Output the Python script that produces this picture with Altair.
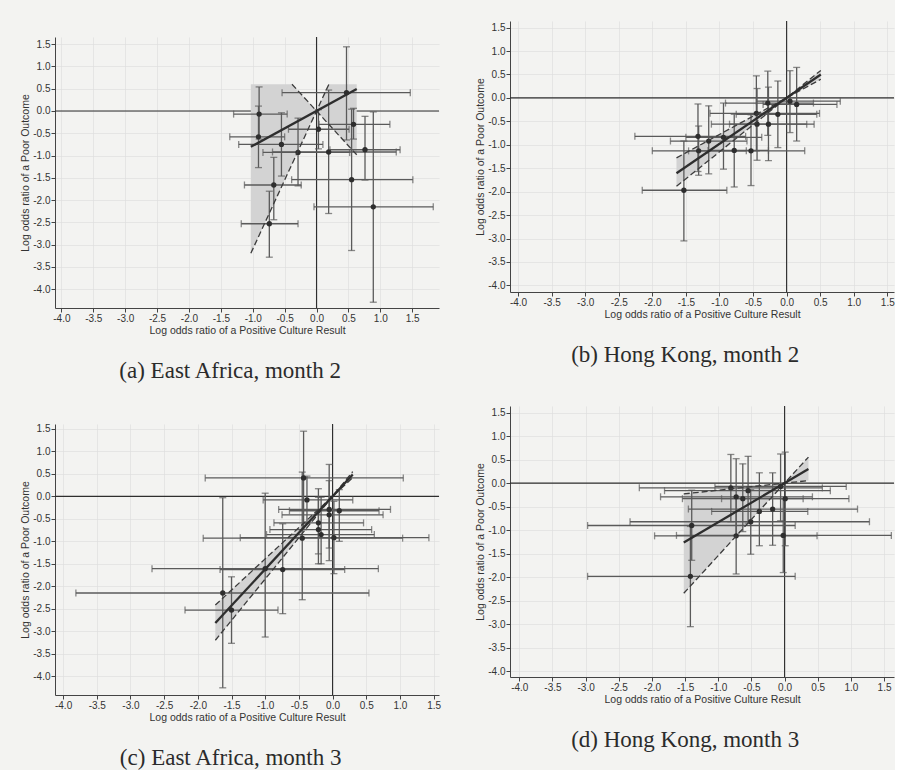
import altair as alt
import pandas as pd

# Shared tick positions and axis titles
TICKS = [-4.0, -3.5, -3.0, -2.5, -2.0, -1.5, -1.0, -0.5, 0.0, 0.5, 1.0, 1.5]
X_TITLE = "Log odds ratio of a Positive Culture Result"
Y_TITLE = "Log odds ratio of a Poor Outcome"

# (a) East Africa, month 2 : estimate, 95% CI on each axis
a_x   = [-0.90, -0.91, -0.55, -0.29, -0.67, -0.74, 0.03, 0.19, 0.47, 0.58, 0.76, 0.55, 0.89]
a_y   = [-0.07, -0.58, -0.75, -0.93, -1.66, -2.53, -0.41, -0.92, 0.41, -0.30, -0.87, -1.54, -2.15]
a_xlo = [-1.30, -1.36, -1.22, -0.84, -1.13, -1.18, -0.44, -0.69, -0.54, 0.04, 0.21, -0.39, -0.04]
a_xhi = [-0.46, -0.50, 0.10, 0.52, -0.24, -0.29, 0.51, 1.25, 1.47, 1.15, 1.31, 1.51, 1.83]
a_ylo = [-0.63, -1.27, -1.46, -1.68, -2.44, -3.28, -0.85, -2.30, -0.65, -0.63, -1.55, -3.13, -4.29]
a_yhi = [0.54, 0.11, -0.04, -0.16, -1.04, -1.80, 0.03, 0.47, 1.44, 0.06, -0.12, 0.04, -0.02]
a_fit = dict(slope=0.78, slope_lo=-1.56, slope_hi=3.10, x_from=-1.03, x_to=0.63, cap=0.60)

# (b) Hong Kong, month 2
b_x   = [-1.32, -1.16, -0.94, -0.78, -0.53, -1.53, -0.45, -0.44, -0.28, -0.27, -0.13, 0.05, 0.15, -1.31]
b_y   = [-0.82, -0.92, -0.84, -1.12, -1.13, -1.97, -0.33, -0.56, -0.11, -0.56, -0.35, -0.07, -0.14, -1.13]
b_xlo = [-2.26, -1.73, -1.50, -1.17, -1.46, -2.15, -1.14, -1.12, -0.91, -0.85, -0.75, -0.45, -0.35, -2.00]
b_xhi = [-0.61, -0.59, -0.37, -0.27, 0.27, -0.89, 0.49, 0.41, 0.40, 0.30, 0.45, 0.80, 0.75, -0.60]
b_ylo = [-1.57, -1.62, -1.52, -1.90, -1.87, -3.05, -1.13, -1.33, -0.80, -1.34, -1.06, -0.74, -0.92, -1.65]
b_yhi = [-0.13, -0.17, -0.11, -0.35, -0.36, -0.92, 0.47, 0.20, 0.57, 0.23, 0.36, 0.58, 0.65, -0.60]
b_fit = dict(slope=0.98, slope_lo=0.78, slope_hi=1.15, x_from=-1.64, x_to=0.51, cap=None)

# (c) East Africa, month 3
c_x   = [-0.43, -0.38, -0.05, 0.10, -0.05, -0.21, -0.21, -0.17, -0.45, 0.02, -1.00, -0.74, -1.63, -1.50]
c_y   = [0.41, -0.08, -0.29, -0.32, -0.41, -0.59, -0.74, -0.85, -0.93, -0.92, -1.61, -1.63, -2.15, -2.53]
c_xlo = [-1.89, -1.03, -0.80, -0.64, -0.75, -0.87, -0.93, -0.98, -1.92, -1.37, -2.68, -1.67, -3.81, -2.19]
c_xhi = [1.05, 0.30, 0.86, 0.69, 0.75, 0.46, 0.58, 0.62, 1.04, 1.43, 0.68, 0.18, 0.54, -0.81]
c_ylo = [-0.74, -0.60, -1.43, -1.00, -1.15, -1.50, -1.28, -1.50, -2.30, -1.72, -3.13, -2.61, -4.26, -3.27]
c_yhi = [1.45, 0.45, 0.71, 0.15, 0.35, 0.17, -0.02, -0.02, 0.54, -0.11, 0.07, -0.61, -0.03, -1.79]
c_fit = dict(slope=1.62, slope_lo=1.39, slope_hi=1.84, x_from=-1.74, x_to=0.30, cap=None)

# (d) Hong Kong, month 3
d_x   = [-0.81, -0.73, -0.63, -0.55, -0.38, -0.18, -0.06, 0.01, -0.51, -1.40, -0.73, -0.02, -1.42]
d_y   = [-0.10, -0.29, -0.33, -0.16, -0.60, -0.55, -0.07, -0.33, -0.82, -0.90, -1.12, -1.11, -1.98]
d_xlo = [-2.19, -1.87, -1.54, -1.81, -1.10, -1.45, -1.05, -0.95, -2.33, -2.97, -1.96, -1.63, -2.97]
d_xhi = [0.57, 0.42, 0.28, 0.69, 0.35, 1.10, 0.93, 0.97, 1.28, 0.16, 0.49, 1.61, 0.16]
d_ylo = [-0.82, -1.11, -1.03, -0.85, -1.33, -1.32, -0.80, -1.33, -1.51, -1.64, -1.93, -1.90, -3.05]
d_yhi = [0.61, 0.52, 0.41, 0.57, 0.22, 0.22, 0.62, 0.66, -0.14, -0.15, -0.32, -0.33, -0.92]
d_fit = dict(slope=0.83, slope_lo=0.15, slope_hi=1.54, x_from=-1.52, x_to=0.36, cap=None)

PANELS = {
    "a": dict(tag="(a)  East Africa, month 2", x=a_x, y=a_y, xlo=a_xlo, xhi=a_xhi, ylo=a_ylo, yhi=a_yhi,
              fit=a_fit, xdom=[-4.10, 1.92], ydom=[-4.42, 1.66]),
    "b": dict(tag="(b)  Hong Kong, month 2", x=b_x, y=b_y, xlo=b_xlo, xhi=b_xhi, ylo=b_ylo, yhi=b_yhi,
              fit=b_fit, xdom=[-4.12, 1.60], ydom=[-4.14, 1.64]),
    "c": dict(tag="(c)  East Africa, month 3", x=c_x, y=c_y, xlo=c_xlo, xhi=c_xhi, ylo=c_ylo, yhi=c_yhi,
              fit=c_fit, xdom=[-4.12, 1.58], ydom=[-4.42, 1.61]),
    "d": dict(tag="(d)  Hong Kong, month 3", x=d_x, y=d_y, xlo=d_xlo, xhi=d_xhi, ylo=d_ylo, yhi=d_yhi,
              fit=d_fit, xdom=[-4.14, 1.65], ydom=[-4.12, 1.64]),
}

INK = "#2e2e2e"
BAR = "#5a5a5a"
BAND = "#d3d3d3"
PAPER = "#f3f3f1"
LABEL = "replace(format(datum.value, '.1f'), '\u2212', '-')"
W, H = 384, 271


def band_table(f):
    """Confidence fan of the through-origin fit, optionally capped at the top."""
    lo_s, hi_s, cap = f["slope_lo"], f["slope_hi"], f["cap"]
    xs = {f["x_from"], 0.0, f["x_to"]}
    if cap is not None:
        for s in (lo_s, hi_s):
            xc = cap / s
            if f["x_from"] < xc < f["x_to"]:
                xs.add(xc)
    rows = []
    for x in sorted(xs):
        a, b = lo_s * x, hi_s * x
        top = max(a, b) if cap is None else min(max(a, b), cap)
        rows.append({"x": x, "lo": min(a, b), "hi": top})
    return pd.DataFrame(rows)


def bound_lines(f):
    rows = []
    for name, s in (("lower", f["slope_lo"]), ("upper", f["slope_hi"])):
        x0, x1 = f["x_from"], f["x_to"]
        if f["cap"] is not None:
            xc = f["cap"] / s
            if s > 0:
                x1 = min(x1, xc)
            else:
                x0 = max(x0, xc)
        rows += [{"bound": name, "x": x0, "y": s * x0}, {"bound": name, "x": x1, "y": s * x1}]
    return pd.DataFrame(rows)


def panel(key):
    p = PANELS[key]
    f = p["fit"]
    xs = alt.Scale(domain=p["xdom"], nice=False, zero=False)
    ys = alt.Scale(domain=p["ydom"], nice=False, zero=False)
    xa = alt.Axis(values=TICKS, labelExpr=LABEL, title=X_TITLE)
    ya = alt.Axis(values=TICKS, labelExpr=LABEL, title=Y_TITLE)

    def X(col):
        return alt.X(col, type="quantitative", scale=xs, axis=xa)

    def Y(col):
        return alt.Y(col, type="quantitative", scale=ys, axis=ya)

    pts = pd.DataFrame({"x": p["x"], "y": p["y"], "xlo": p["xlo"], "xhi": p["xhi"],
                        "ylo": p["ylo"], "yhi": p["yhi"]})
    hcaps = pd.concat([pd.DataFrame({"cx": pts["xlo"], "cy": pts["y"]}),
                       pd.DataFrame({"cx": pts["xhi"], "cy": pts["y"]})])
    vcaps = pd.concat([pd.DataFrame({"cx": pts["x"], "cy": pts["ylo"]}),
                       pd.DataFrame({"cx": pts["x"], "cy": pts["yhi"]})])
    ref = pd.DataFrame({"ref": [0.0]})
    fit = pd.DataFrame({"x": [f["x_from"], f["x_to"]],
                        "y": [f["slope"] * f["x_from"], f["slope"] * f["x_to"]]})

    zero_x = alt.Chart(ref).mark_rule(color=INK, strokeWidth=1.1).encode(x=X("ref"))
    zero_y = alt.Chart(ref).mark_rule(color=INK, strokeWidth=1.1).encode(y=Y("ref"))
    band = alt.Chart(band_table(f)).mark_area(color=BAND, opacity=1).encode(
        x=X("x"), y=Y("lo"), y2="hi")
    hbars = alt.Chart(pts).mark_rule(color=BAR, strokeWidth=1.3).encode(
        x=X("xlo"), x2="xhi", y=Y("y"))
    vbars = alt.Chart(pts).mark_rule(color=BAR, strokeWidth=1.3).encode(
        x=X("x"), y=Y("ylo"), y2="yhi")
    hcap = alt.Chart(hcaps).mark_tick(color=BAR, orient="vertical", size=7, thickness=1.3).encode(
        x=X("cx"), y=Y("cy"))
    vcap = alt.Chart(vcaps).mark_tick(color=BAR, orient="horizontal", size=7, thickness=1.3).encode(
        x=X("cx"), y=Y("cy"))
    dots = alt.Chart(pts).mark_circle(color=INK, size=28, opacity=1).encode(x=X("x"), y=Y("y"))
    dashed = alt.Chart(bound_lines(f)).mark_line(
        color="#3c3c3c", strokeWidth=1.3, strokeDash=[6, 3]).encode(
        x=X("x"), y=Y("y"), detail="bound:N")
    line = alt.Chart(fit).mark_line(color=INK, strokeWidth=2.3).encode(x=X("x"), y=Y("y"))

    return alt.layer(zero_x, zero_y, band, hbars, vbars, hcap, vcap, dots, dashed, line).properties(
        width=W, height=H,
        title=alt.TitleParams(p["tag"], orient="bottom", anchor="middle", frame="bounds",
                              font="Liberation Serif", fontSize=23, fontWeight="normal",
                              color="#2b2b2b", offset=24),
    )


# empty strip that drops the left column a little below the right one
gap = alt.Chart(pd.DataFrame({"gap": []})).mark_point().properties(width=W, height=15)

left = alt.vconcat(alt.vconcat(gap, panel("a"), spacing=0), panel("c"), spacing=40)
right = alt.vconcat(panel("b"), panel("d"), spacing=38)

chart = (
    alt.hconcat(left, right, spacing=34)
    .properties(padding={"left": 20, "top": 20, "right": 0, "bottom": 0}, background=PAPER)
    .configure_view(stroke=None)
    .configure_axis(
        labelFont="Liberation Sans", labelFontSize=10, labelColor="#333333", labelPadding=1,
        titleFont="Liberation Sans", titleFontSize=10.5, titleFontWeight="normal",
        titleColor="#333333", titlePadding=2,
        gridColor="#dedede", gridWidth=0.7, domainColor="#444444", tickColor="#444444",
        tickSize=4,
    )
)

chart.save("out.html", embed_options={"renderer": "svg", "actions": False})
